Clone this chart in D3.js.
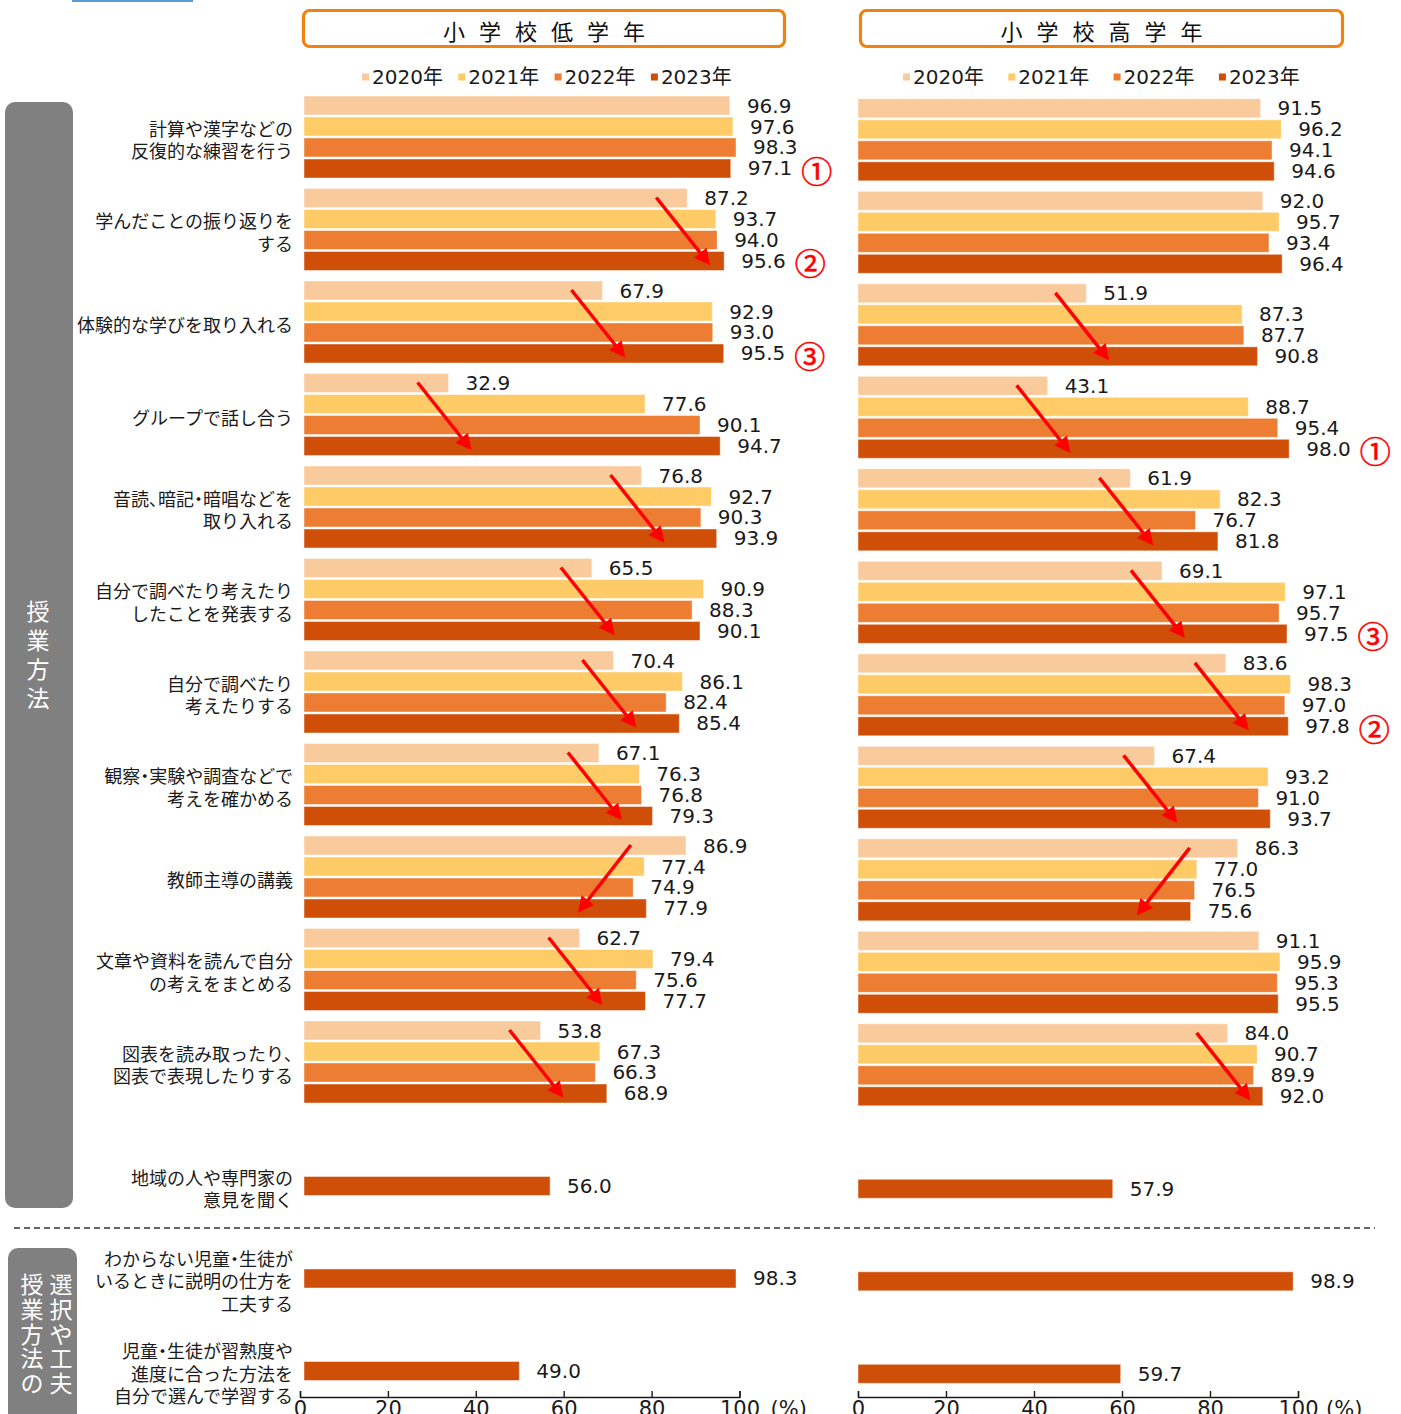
<!DOCTYPE html>
<html>
<head>
<meta charset="utf-8">
<script src="https://cdn.jsdelivr.net/npm/d3@7"></script>
<style>
  body { margin: 0; background: #fff; }
  svg { display: block; }
  .num { font-family: "DejaVu Sans", "Noto Sans CJK JP", sans-serif; }
  .jp { font-family: "Noto Sans CJK JP", sans-serif; }
  .narrow { font-feature-settings: "palt"; }
</style>
</head>
<body>
<svg id="chart" width="1401" height="1414"></svg>
<script>
// ---- data ----
const categories = [
  '計算や漢字などの\n反復的な練習を行う',
  '学んだことの振り返りを\nする',
  '体験的な学びを取り入れる',
  'グループで話し合う',
  '音読、暗記・暗唱などを\n取り入れる',
  '自分で調べたり考えたり\nしたことを発表する',
  '自分で調べたり\n考えたりする',
  '観察・実験や調査などで\n考えを確かめる',
  '教師主導の講義',
  '文章や資料を読んで自分\nの考えをまとめる',
  '図表を読み取ったり、\n図表で表現したりする',
  '地域の人や専門家の\n意見を聞く',
  'わからない児童・生徒が\nいるときに説明の仕方を\n工夫する',
  '児童・生徒が習熟度や\n進度に合った方法を\n自分で選んで学習する'
];
const years = ['2020年', '2021年', '2022年', '2023年'];

const lower2020 = [96.9, 87.2, 67.9, 32.9, 76.8, 65.5, 70.4, 67.1, 86.9, 62.7, 53.8, null, null, null];
const lower2021 = [97.6, 93.7, 92.9, 77.6, 92.7, 90.9, 86.1, 76.3, 77.4, 79.4, 67.3, null, null, null];
const lower2022 = [98.3, 94.0, 93.0, 90.1, 90.3, 88.3, 82.4, 76.8, 74.9, 75.6, 66.3, null, null, null];
const lower2023 = [97.1, 95.6, 95.5, 94.7, 93.9, 90.1, 85.4, 79.3, 77.9, 77.7, 68.9, 56.0, 98.3, 49.0];
const lowerRank = [1, 2, 3, 0, 0, 0, 0, 0, 0, 0, 0, 0, 0, 0];

const upper2020 = [91.5, 92.0, 51.9, 43.1, 61.9, 69.1, 83.6, 67.4, 86.3, 91.1, 84.0, null, null, null];
const upper2021 = [96.2, 95.7, 87.3, 88.7, 82.3, 97.1, 98.3, 93.2, 77.0, 95.9, 90.7, null, null, null];
const upper2022 = [94.1, 93.4, 87.7, 95.4, 76.7, 95.7, 97.0, 91.0, 76.5, 95.3, 89.9, null, null, null];
const upper2023 = [94.6, 96.4, 90.8, 98.0, 81.8, 97.5, 97.8, 93.7, 75.6, 95.5, 92.0, 57.9, 98.9, 59.7];
const upperRank = [0, 0, 0, 1, 0, 3, 2, 0, 0, 0, 0, 0, 0, 0];

const rankMarks = ['', '①', '②', '③'];
const tickValues = [0, 20, 40, 60, 80, 100];

// ---- setup ----
const svg = d3.select('#chart');
const color = d3.scaleOrdinal().domain(years).range(['#f9ca9c', '#fecb66', '#ec7d32', '#d04f08']);
const pitch = 92.5, gap = 10.5;

const defs = svg.append('defs');
defs.append('marker')
  .attr('id', 'head')
  .attr('viewBox', '0 0 10 10')
  .attr('refX', 7).attr('refY', 5)
  .attr('markerUnits', 'userSpaceOnUse')
  .attr('markerWidth', 19).attr('markerHeight', 16)
  .attr('orient', 'auto')
  .append('path').attr('d', 'M0,0 L10,5 L0,10 z').attr('fill', '#ff0000');

// little blue strip at the very top
svg.append('rect').attr('x', 72).attr('y', 0).attr('width', 121).attr('height', 2).attr('fill', '#5b9bd5');

/* side tabs */
svg.append('rect').attr('x', 5).attr('y', 102).attr('width', 68).attr('height', 1106).attr('rx', 10).attr('fill', '#808080');
svg.append('g').selectAll('text').data('授業方法'.split('')).join('text')
  .attr('class', 'jp')
  .attr('x', 38).attr('y', (d, i) => 653.5 + (i - 1.5) * 29)
  .attr('text-anchor', 'middle').attr('dominant-baseline', 'central')
  .attr('font-size', 23).attr('fill', '#fff').text(d => d);

svg.append('rect').attr('x', 8).attr('y', 1248).attr('width', 69).attr('height', 200).attr('rx', 10).attr('fill', '#808080');
[['選択や工夫', 61], ['授業方法の', 32]].forEach(([s, cx]) => {
  svg.append('g').selectAll('text').data(s.split('')).join('text')
    .attr('class', 'jp')
    .attr('x', cx).attr('y', (d, i) => 1283 + i * 24.8)
    .attr('text-anchor', 'middle').attr('dominant-baseline', 'central')
    .attr('font-size', 23).attr('fill', '#fff').text(d => d);
});

// dashed separator
svg.append('line').attr('x1', 14).attr('x2', 1375).attr('y1', 1228).attr('y2', 1228)
  .attr('stroke', '#333').attr('stroke-width', 1.4).attr('stroke-dasharray', '6,4');

const panels = [
  { title: '小学校低学年', values: [lower2020, lower2021, lower2022, lower2023], ranks: lowerRank,
    x0: 304, x1: 743.5, top: 96, axisShift: -4, legendX: 366, legendStep: 96.3,
    boxX: 303.5, boxW: 481, pctGap: 31, downShift: -55, labels: true },
  { title: '小学校高学年', values: [upper2020, upper2021, upper2022, upper2023], ranks: upperRank,
    x0: 858, x1: 1298, top: 98.8, axisShift: 0, legendX: 907, legendStep: 105.3,
    boxX: 860.5, boxW: 482, pctGap: 28, downShift: -48, labels: false }
];

panels.forEach(p => {
  const x = d3.scaleLinear().domain([0, 100]).range([p.x0, p.x1]);
  const y = d3.scaleBand().domain(d3.range(categories.length))
    .range([p.top, p.top + categories.length * pitch - gap]).paddingInner(gap / pitch);
  const yi = d3.scaleBand().domain(years).range([0, y.bandwidth()]).paddingInner(0.095);

  const rows = [];
  categories.forEach((c, i) => {
    years.forEach((yr, j) => {
      const v = p.values[j][i];
      if (v != null) rows.push({ i, year: yr, v });
    });
  });

  const g = svg.append('g');

  // header box
  g.append('rect').attr('x', p.boxX).attr('y', 10.5).attr('width', p.boxW).attr('height', 36)
    .attr('rx', 6).attr('fill', '#fff').attr('stroke', '#f08211').attr('stroke-width', 3.2);
  g.append('text').attr('class', 'jp')
    .attr('x', p.boxX + p.boxW / 2 + 7).attr('y', 30)
    .attr('text-anchor', 'middle').attr('dominant-baseline', 'central')
    .attr('font-size', 22).attr('letter-spacing', 14).attr('fill', '#111')
    .text(p.title);

  // legend
  const lg = g.append('g').selectAll('g').data(years).join('g')
    .attr('transform', (d, i) => `translate(${p.legendX + i * p.legendStep},77)`);
  lg.append('rect').attr('x', -4).attr('y', -3.5).attr('width', 7).attr('height', 7).attr('fill', d => color(d));
  lg.append('text').attr('class', 'num').attr('x', 6).attr('y', 0)
    .attr('dominant-baseline', 'central').attr('font-size', 20).attr('fill', '#1a1a1a').text(d => d);

  // bars
  g.append('g').selectAll('rect').data(rows).join('rect')
    .attr('x', x(0))
    .attr('y', d => y(d.i) + yi(d.year))
    .attr('width', d => x(d.v) - x(0))
    .attr('height', yi.bandwidth())
    .attr('fill', d => color(d.year))
    .attr('stroke', 'rgba(255,255,255,0.45)').attr('stroke-width', 1);

  // value labels
  g.append('g').selectAll('text').data(rows).join('text')
    .attr('class', 'num')
    .attr('x', d => x(d.v) + 17)
    .attr('y', d => y(d.i) + yi(d.year) + yi.bandwidth() / 2)
    .attr('dominant-baseline', 'central')
    .attr('font-size', 20).attr('fill', '#1a1a1a')
    .text(d => d.v.toFixed(1));

  // rank marks
  const ranked = categories.map((c, i) => ({ i, r: p.ranks[i], v: p.values[3][i] })).filter(d => d.r > 0);
  g.append('g').selectAll('text').data(ranked).join('text')
    .attr('class', 'jp')
    .attr('x', d => x(d.v) + 86)
    .attr('y', d => y(d.i) + yi('2023年') + yi.bandwidth() / 2 + 1)
    .attr('text-anchor', 'middle').attr('dominant-baseline', 'central')
    .attr('font-size', 31).attr('fill', '#ff0000').attr('stroke', '#ff0000').attr('stroke-width', 0.6)
    .text(d => rankMarks[d.r]);

  // trend arrows where 2020 -> 2023 moved by 5 points or more
  const trends = categories.map((c, i) => ({ i, a: p.values[0][i], b: p.values[3][i] }))
    .filter(d => d.a != null && Math.abs(d.b - d.a) >= 5);
  g.append('g').selectAll('line').data(trends).join('line')
    .attr('x1', d => d.b > d.a ? x(d.a) - 31 : x(d.a) + p.downShift)
    .attr('x2', d => d.b > d.a ? x(d.a) - 31 + 51 : x(d.a) + p.downShift - 50)
    .attr('y1', d => y(d.i) + 9)
    .attr('y2', d => y(d.i) + 73)
    .attr('stroke', '#ff0000').attr('stroke-width', 3.5)
    .attr('marker-end', 'url(#head)');

  // category labels (drawn once, left of the first panel)
  if (p.labels) {
    const lab = svg.append('g').selectAll('text').data(categories).join('text')
      .attr('class', 'jp')
      .attr('x', 293)
      .attr('y', (d, i) => 2 + (p.values[0][i] != null
        ? y(i) + y.bandwidth() / 2
        : y(i) + yi('2023年') + yi.bandwidth() / 2))
      .attr('text-anchor', 'end').attr('font-size', 18).attr('fill', '#1a1a1a');
    lab.each(function (d) {
      const lines = d.split('\n');
      const t = d3.select(this);
      const y0 = +t.attr('y');
      lines.forEach((ln, k) => {
        const row = t.append('tspan').attr('x', 293)
          .attr('y', y0 + (k - (lines.length - 1) / 2) * 22.5)
          .attr('dominant-baseline', 'central');
        // punctuation is set half width, as in the original
        ln.split(/([・、])/).filter(s => s).forEach(seg => {
          row.append('tspan').attr('class', /[・、]/.test(seg) ? 'narrow' : null).text(seg);
        });
      });
    });
  }

  // axis
  const axis = d3.axisBottom(x).tickValues(tickValues).tickFormat(d3.format('d'))
    .tickSizeInner(-6).tickSizeOuter(-6).tickPadding(4);
  const ax = g.append('g').attr('transform', `translate(${p.axisShift},1397)`).call(axis);
  ax.select('.domain').attr('stroke', '#1a1a1a').attr('stroke-width', 1.4);
  ax.selectAll('.tick line').attr('stroke', '#1a1a1a').attr('stroke-width', 1.4);
  ax.selectAll('.tick text').attr('class', 'num').attr('font-size', 21).attr('fill', '#1a1a1a');
  g.append('text').attr('class', 'num')
    .attr('x', x(100) + p.axisShift + p.pctGap).attr('y', 1401).attr('dy', '0.71em')
    .attr('font-size', 21).attr('fill', '#1a1a1a').text('(%)');
});
</script>
</body>
</html>
